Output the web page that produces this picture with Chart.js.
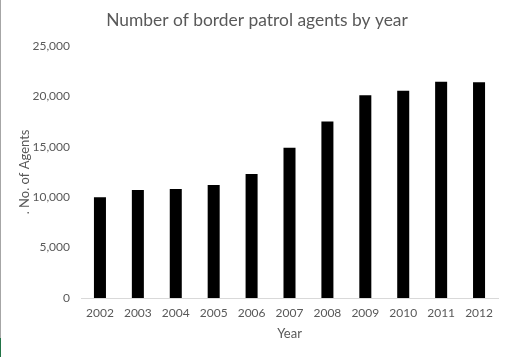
<!DOCTYPE html>
<html>
<head>
<meta charset="utf-8">
<script src="https://cdn.jsdelivr.net/npm/chart.js@4"></script>
<style>
  html, body { margin: 0; padding: 0; background: #ffffff; }
  #wrap { position: relative; width: 511px; height: 357px; }
  #edge { position: absolute; left: 0; top: 0; width: 1px; height: 338px; background: #a6a6a6; }
  #edge2 { position: absolute; left: 0; top: 338px; width: 1px; height: 19px; background: #217346; }
</style>
</head>
<body>
<div id="wrap">
  <canvas id="c" width="511" height="357"></canvas>
  <div id="edge"></div>
  <div id="edge2"></div>
</div>
<script>
const chartTitle = "Number of border patrol agents by year";
const xAxisTitle = "Year";
const yAxisTitle = ". No. of Agents";
const years = ["2002","2003","2004","2005","2006","2007","2008","2009","2010","2011","2012"];
const agents = [10000, 10700, 10800, 11200, 12300, 14900, 17500, 20100, 20550, 21450, 21400];
const yTicks = [0, 5000, 10000, 15000, 20000, 25000];

const FONT = "Lato, 'Liberation Sans', sans-serif";
const GRAY = "#595959";

new Chart(document.getElementById("c"), {
  type: "bar",
  data: {
    labels: years,
    datasets: [{
      label: "Agents",
      data: agents,
      backgroundColor: "#000000",
      borderWidth: 0,
      barPercentage: 0.317,
      categoryPercentage: 1.0
    }]
  },
  options: {
    responsive: false,
    animation: false,
    devicePixelRatio: 1,
    layout: { padding: { left: 16, right: 13, top: 0, bottom: 0 } },
    plugins: {
      legend: { display: false },
      tooltip: { enabled: false },
      title: {
        display: true,
        text: chartTitle,
        color: GRAY,
        font: { family: FONT, size: 17.4, weight: "normal" },
        padding: { top: 10, bottom: 15 }
      }
    },
    scales: {
      x: {
        grid: { display: false, drawTicks: false },
        border: { display: true, color: "#d9d9d9", width: 1 },
        ticks: { color: GRAY, font: { family: FONT, size: 12 }, padding: 8, maxRotation: 0 },
        title: {
          display: true, text: xAxisTitle, color: GRAY,
          font: { family: FONT, size: 13 }, padding: { top: 2, bottom: 15 }
        },
        afterFit: (s) => { s.height = 59; }
      },
      y: {
        min: 0, max: 25000,
        afterBuildTicks: (s) => { s.ticks = yTicks.map(v => ({ value: v })); },
        grid: { display: false, drawTicks: false },
        border: { display: false },
        ticks: { color: GRAY, font: { family: FONT, size: 12 }, padding: 11 },
        title: {
          display: true, text: yAxisTitle, color: GRAY,
          font: { family: FONT, size: 13 }, padding: { top: 1, bottom: 0 }
        },
        afterFit: (s) => { s.width = 65; }
      }
    }
  }
});
</script>
</body>
</html>
